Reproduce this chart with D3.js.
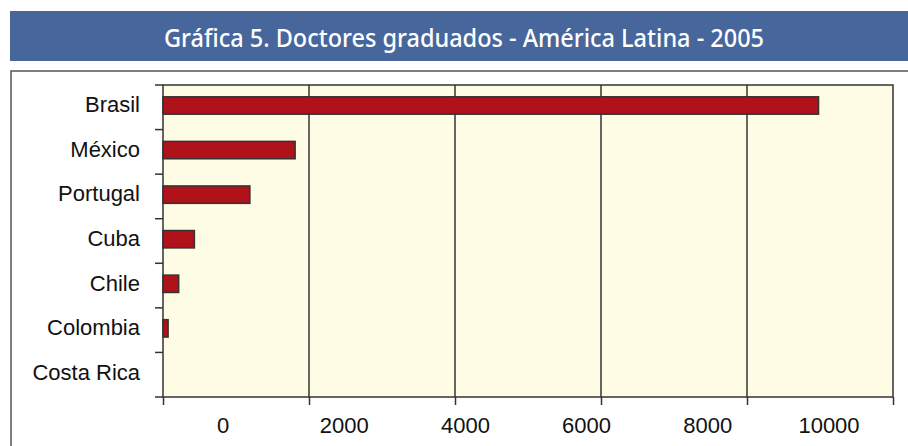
<!DOCTYPE html>
<html>
<head>
<meta charset="utf-8">
<script src="https://cdn.jsdelivr.net/npm/d3@7"></script>
<style>
  body { margin: 0; background: #fff; }
  svg { display: block; }
</style>
</head>
<body>
<svg id="chart" width="908" height="446"></svg>
<script>
const TITLE = 'Gráfica 5. Doctores graduados - América Latina - 2005'
const COUNTRIES = ['Brasil', 'México', 'Portugal', 'Cuba', 'Chile', 'Colombia', 'Costa Rica']
const GRADUATES = [8980, 1810, 1190, 430, 215, 70, 0]
const X_TICKS = [0, 2000, 4000, 6000, 8000, 10000]

const svg = d3.select('#chart')
const font = '"Liberation Sans", Arial, sans-serif'

// title band
svg.append('rect').attr('x', 10).attr('y', 11).attr('width', 910).attr('height', 50).attr('fill', '#47669c')
svg.append('text')
  .attr('x', 464).attr('y', 47)
  .attr('text-anchor', 'middle')
  .attr('textLength', 600).attr('lengthAdjust', 'spacingAndGlyphs')
  .style('font-family', '"Noto Sans", "DejaVu Sans", sans-serif')
  .style('font-weight', 500)
  .style('font-size', '26px')
  .style('fill', '#fff')
  .text(TITLE)

// outer frame
svg.append('rect').attr('x', 11).attr('y', 71).attr('width', 930).attr('height', 420)
  .attr('fill', 'none').attr('stroke', '#555').attr('stroke-width', 1.5)

const plot = { left: 163, right: 893, top: 85, bottom: 397 }

const x = d3.scaleLinear().domain([0, 10000]).range([plot.left, plot.right])
const y = d3.scaleBand().domain(COUNTRIES).range([plot.top, plot.bottom])
// tick labels in the original sit on their own, evenly spread
const xLabel = d3.scaleLinear().domain([0, 10000]).range([223, 829])

svg.append('rect')
  .attr('x', plot.left).attr('y', plot.top)
  .attr('width', plot.right - plot.left).attr('height', plot.bottom - plot.top)
  .attr('fill', '#fffce6')

// gridlines
svg.append('g').selectAll('line')
  .data(X_TICKS.slice(1, -1))
  .join('line')
  .attr('x1', d => x(d)).attr('x2', d => x(d))
  .attr('y1', plot.top).attr('y2', plot.bottom)
  .attr('stroke', '#333').attr('stroke-width', 1.5)

// bars
const bw = y.bandwidth()
svg.append('g').selectAll('rect')
  .data(COUNTRIES.map((c, i) => ({ name: c, value: GRADUATES[i] })).filter(d => d.value > 0))
  .join('rect')
  .attr('x', x(0))
  .attr('y', d => y(d.name) + bw * 0.265)
  .attr('width', d => x(d.value) - x(0))
  .attr('height', bw * 0.39)
  .attr('fill', '#b0121a')
  .attr('stroke', '#333').attr('stroke-width', 1.5)

// plot frame
svg.append('rect')
  .attr('x', plot.left).attr('y', plot.top)
  .attr('width', plot.right - plot.left).attr('height', plot.bottom - plot.top)
  .attr('fill', 'none').attr('stroke', '#333').attr('stroke-width', 1.5)

// x axis ticks
svg.append('g')
  .attr('transform', 'translate(0,' + plot.bottom + ')')
  .call(d3.axisBottom(x).tickValues(X_TICKS).tickSize(8).tickFormat(''))
  .call(g => g.select('.domain').remove())
  .selectAll('line').attr('stroke', '#333').attr('stroke-width', 1.5)

svg.append('g').selectAll('text')
  .data(X_TICKS)
  .join('text')
  .attr('x', d => xLabel(d)).attr('y', 433)
  .attr('text-anchor', 'middle')
  .style('font-family', font).style('font-size', '22px').style('fill', '#111')
  .text(d => d)

// y axis ticks at band edges
const edges = COUNTRIES.map(c => y(c)).concat([plot.bottom])
svg.append('g').selectAll('line')
  .data(edges)
  .join('line')
  .attr('x1', plot.left - 8).attr('x2', plot.left)
  .attr('y1', d => d).attr('y2', d => d)
  .attr('stroke', '#333').attr('stroke-width', 1.5)

svg.append('g').selectAll('text')
  .data(COUNTRIES)
  .join('text')
  .attr('x', 140)
  .attr('y', d => y(d) + bw / 2 + 5)
  .attr('text-anchor', 'end')
  .style('font-family', font).style('font-size', '22px').style('fill', '#111')
  .text(d => d)
</script>
</body>
</html>
